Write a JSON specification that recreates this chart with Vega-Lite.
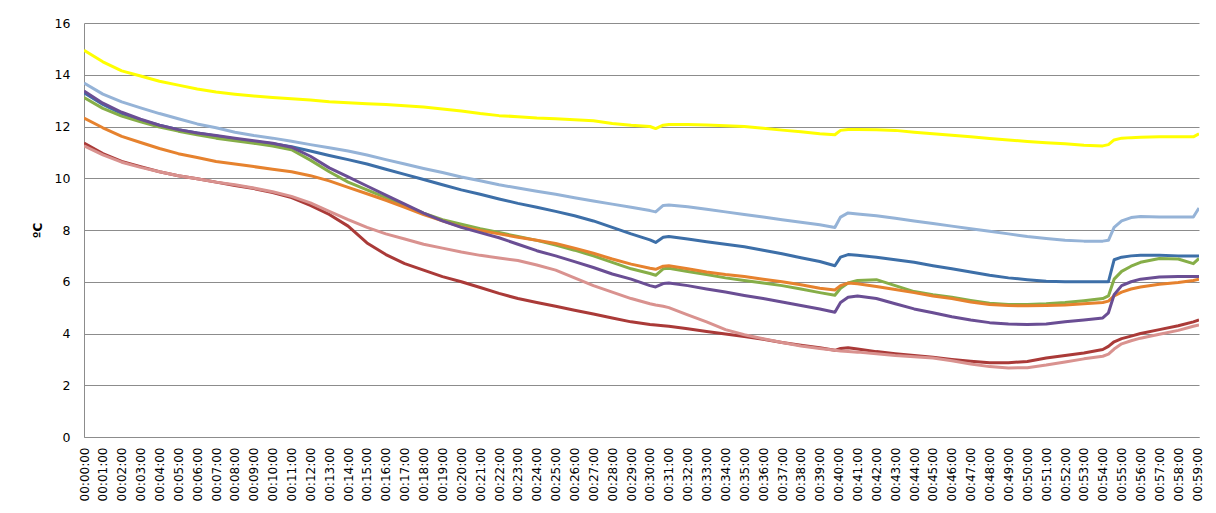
{
  "$schema": "https://vega.github.io/schema/vega-lite/v6.json",
  "width": 1115,
  "height": 414,
  "autosize": {"type": "none"},
  "padding": {"left": 84, "top": 23, "right": 17, "bottom": 76},
  "background": "#ffffff",
  "config": {
    "view": {"stroke": null},
    "font": "DejaVu Sans"
  },
  "data": {
    "values": [
      {"t": 0, "S1": 14.95, "S2": 13.68, "S3": 13.3, "S4": 13.12, "S5": 12.33, "S6": 13.37, "S7": 11.36, "S8": 11.25},
      {"t": 1, "S1": 14.5, "S2": 13.25, "S3": 12.85, "S4": 12.7, "S5": 11.95, "S6": 12.9, "S7": 10.95, "S8": 10.9},
      {"t": 2, "S1": 14.15, "S2": 12.95, "S3": 12.5, "S4": 12.4, "S5": 11.62, "S6": 12.55, "S7": 10.65, "S8": 10.62},
      {"t": 3, "S1": 13.95, "S2": 12.72, "S3": 12.25, "S4": 12.18, "S5": 11.38, "S6": 12.28, "S7": 10.45, "S8": 10.42},
      {"t": 4, "S1": 13.75, "S2": 12.5, "S3": 12.05, "S4": 11.98, "S5": 11.15, "S6": 12.05, "S7": 10.25, "S8": 10.25},
      {"t": 5, "S1": 13.6, "S2": 12.3, "S3": 11.88, "S4": 11.82, "S5": 10.95, "S6": 11.88, "S7": 10.1, "S8": 10.1},
      {"t": 6, "S1": 13.45, "S2": 12.1, "S3": 11.75, "S4": 11.68, "S5": 10.8, "S6": 11.75, "S7": 9.98, "S8": 9.98},
      {"t": 7, "S1": 13.33, "S2": 11.95, "S3": 11.63, "S4": 11.55, "S5": 10.65, "S6": 11.65, "S7": 9.85, "S8": 9.85},
      {"t": 8, "S1": 13.25, "S2": 11.78, "S3": 11.52, "S4": 11.45, "S5": 10.55, "S6": 11.55, "S7": 9.72, "S8": 9.75},
      {"t": 9, "S1": 13.18, "S2": 11.65, "S3": 11.42, "S4": 11.35, "S5": 10.45, "S6": 11.45, "S7": 9.6, "S8": 9.62},
      {"t": 10, "S1": 13.12, "S2": 11.55, "S3": 11.33, "S4": 11.25, "S5": 10.35, "S6": 11.35, "S7": 9.45, "S8": 9.48},
      {"t": 11, "S1": 13.07, "S2": 11.43, "S3": 11.22, "S4": 11.1, "S5": 10.25, "S6": 11.2, "S7": 9.25, "S8": 9.3},
      {"t": 12, "S1": 13.02, "S2": 11.3, "S3": 11.05, "S4": 10.7, "S5": 10.1, "S6": 10.85, "S7": 8.95, "S8": 9.05},
      {"t": 13, "S1": 12.96, "S2": 11.18, "S3": 10.88, "S4": 10.25, "S5": 9.9, "S6": 10.4, "S7": 8.6, "S8": 8.72},
      {"t": 14, "S1": 12.92, "S2": 11.05, "S3": 10.72, "S4": 9.85, "S5": 9.65, "S6": 10.05, "S7": 8.15, "S8": 8.4},
      {"t": 15, "S1": 12.88, "S2": 10.9, "S3": 10.55, "S4": 9.55, "S5": 9.4, "S6": 9.7, "S7": 7.5, "S8": 8.1},
      {"t": 16, "S1": 12.85, "S2": 10.72, "S3": 10.35, "S4": 9.25, "S5": 9.15, "S6": 9.35, "S7": 7.05, "S8": 7.85},
      {"t": 17, "S1": 12.8, "S2": 10.55, "S3": 10.15, "S4": 8.95, "S5": 8.88, "S6": 9.0, "S7": 6.7, "S8": 7.65},
      {"t": 18, "S1": 12.75, "S2": 10.38, "S3": 9.95, "S4": 8.65, "S5": 8.6, "S6": 8.65, "S7": 6.45, "S8": 7.45},
      {"t": 19, "S1": 12.68, "S2": 10.22, "S3": 9.75, "S4": 8.4, "S5": 8.35, "S6": 8.35, "S7": 6.2, "S8": 7.3},
      {"t": 20, "S1": 12.6, "S2": 10.05, "S3": 9.55, "S4": 8.22, "S5": 8.12, "S6": 8.1, "S7": 6.0, "S8": 7.15},
      {"t": 21, "S1": 12.5, "S2": 9.9, "S3": 9.38, "S4": 8.05, "S5": 7.98, "S6": 7.9, "S7": 5.78, "S8": 7.02},
      {"t": 22, "S1": 12.42, "S2": 9.75, "S3": 9.2, "S4": 7.9, "S5": 7.85, "S6": 7.7, "S7": 5.55, "S8": 6.92},
      {"t": 23, "S1": 12.38, "S2": 9.62, "S3": 9.03, "S4": 7.75, "S5": 7.72, "S6": 7.45, "S7": 5.35, "S8": 6.82},
      {"t": 24, "S1": 12.33, "S2": 9.5, "S3": 8.88, "S4": 7.6, "S5": 7.6, "S6": 7.2, "S7": 5.2, "S8": 6.65},
      {"t": 25, "S1": 12.3, "S2": 9.38, "S3": 8.72, "S4": 7.42, "S5": 7.48, "S6": 7.0, "S7": 5.05, "S8": 6.45},
      {"t": 26, "S1": 12.26, "S2": 9.25, "S3": 8.55, "S4": 7.22, "S5": 7.3, "S6": 6.78, "S7": 4.9, "S8": 6.15},
      {"t": 27, "S1": 12.22, "S2": 9.12, "S3": 8.35, "S4": 7.0, "S5": 7.1, "S6": 6.55, "S7": 4.75, "S8": 5.85},
      {"t": 28, "S1": 12.12, "S2": 9.0, "S3": 8.1, "S4": 6.75, "S5": 6.88, "S6": 6.3, "S7": 4.6, "S8": 5.6},
      {"t": 29, "S1": 12.05, "S2": 8.88, "S3": 7.85, "S4": 6.5, "S5": 6.68, "S6": 6.1, "S7": 4.45, "S8": 5.35},
      {"t": 30, "S1": 12.0, "S2": 8.75, "S3": 7.62, "S4": 6.32, "S5": 6.52, "S6": 5.85, "S7": 4.35, "S8": 5.15},
      {"t": 30.3, "S1": 11.92, "S2": 8.7, "S3": 7.52, "S4": 6.25, "S5": 6.48, "S6": 5.8, "S7": 4.33, "S8": 5.1},
      {"t": 30.7, "S1": 12.05, "S2": 8.95, "S3": 7.72, "S4": 6.5, "S5": 6.6, "S6": 5.93, "S7": 4.3, "S8": 5.05},
      {"t": 31, "S1": 12.08, "S2": 8.97, "S3": 7.75, "S4": 6.52, "S5": 6.62, "S6": 5.95, "S7": 4.28, "S8": 5.0},
      {"t": 32, "S1": 12.08, "S2": 8.9, "S3": 7.65, "S4": 6.4, "S5": 6.5, "S6": 5.85, "S7": 4.18, "S8": 4.72},
      {"t": 33, "S1": 12.06, "S2": 8.8, "S3": 7.55, "S4": 6.28, "S5": 6.38, "S6": 5.72, "S7": 4.08, "S8": 4.45},
      {"t": 34, "S1": 12.03, "S2": 8.7, "S3": 7.45, "S4": 6.15, "S5": 6.28, "S6": 5.6, "S7": 3.98, "S8": 4.15},
      {"t": 35, "S1": 12.0, "S2": 8.6, "S3": 7.35, "S4": 6.05, "S5": 6.2, "S6": 5.47, "S7": 3.88, "S8": 3.95},
      {"t": 36, "S1": 11.93, "S2": 8.5, "S3": 7.22, "S4": 5.95, "S5": 6.1, "S6": 5.35, "S7": 3.78, "S8": 3.8},
      {"t": 37, "S1": 11.86, "S2": 8.4, "S3": 7.08, "S4": 5.85, "S5": 6.0, "S6": 5.22, "S7": 3.65, "S8": 3.65},
      {"t": 38, "S1": 11.8, "S2": 8.3, "S3": 6.93, "S4": 5.72, "S5": 5.88, "S6": 5.08, "S7": 3.55, "S8": 3.52},
      {"t": 39, "S1": 11.72, "S2": 8.2, "S3": 6.78, "S4": 5.58, "S5": 5.75, "S6": 4.95, "S7": 3.45, "S8": 3.42},
      {"t": 39.8, "S1": 11.68, "S2": 8.1, "S3": 6.62, "S4": 5.48, "S5": 5.68, "S6": 4.82, "S7": 3.35, "S8": 3.35},
      {"t": 40.1, "S1": 11.85, "S2": 8.5, "S3": 6.95, "S4": 5.75, "S5": 5.85, "S6": 5.2, "S7": 3.42, "S8": 3.32},
      {"t": 40.5, "S1": 11.88, "S2": 8.66, "S3": 7.05, "S4": 5.95, "S5": 5.95, "S6": 5.4, "S7": 3.45, "S8": 3.3},
      {"t": 41, "S1": 11.88, "S2": 8.62, "S3": 7.02, "S4": 6.05, "S5": 5.92, "S6": 5.45, "S7": 3.4, "S8": 3.28},
      {"t": 42, "S1": 11.87, "S2": 8.55, "S3": 6.95, "S4": 6.08, "S5": 5.82, "S6": 5.35, "S7": 3.3, "S8": 3.22},
      {"t": 43, "S1": 11.85, "S2": 8.45, "S3": 6.85, "S4": 5.85, "S5": 5.7, "S6": 5.15, "S7": 3.22, "S8": 3.15},
      {"t": 44, "S1": 11.78, "S2": 8.35, "S3": 6.75, "S4": 5.62, "S5": 5.58, "S6": 4.95, "S7": 3.15, "S8": 3.1},
      {"t": 45, "S1": 11.72, "S2": 8.25, "S3": 6.62, "S4": 5.5, "S5": 5.45, "S6": 4.8, "S7": 3.08, "S8": 3.05},
      {"t": 46, "S1": 11.66, "S2": 8.15, "S3": 6.5, "S4": 5.4, "S5": 5.35, "S6": 4.65, "S7": 3.0, "S8": 2.95},
      {"t": 47, "S1": 11.6, "S2": 8.05, "S3": 6.38, "S4": 5.28, "S5": 5.22, "S6": 4.52, "S7": 2.93, "S8": 2.82},
      {"t": 48, "S1": 11.54, "S2": 7.95, "S3": 6.25, "S4": 5.17, "S5": 5.12, "S6": 4.42, "S7": 2.87, "S8": 2.72},
      {"t": 49, "S1": 11.48, "S2": 7.85, "S3": 6.15, "S4": 5.12, "S5": 5.08, "S6": 4.37, "S7": 2.87, "S8": 2.67},
      {"t": 50, "S1": 11.42, "S2": 7.75, "S3": 6.08, "S4": 5.12, "S5": 5.07, "S6": 4.35, "S7": 2.92, "S8": 2.68},
      {"t": 51, "S1": 11.37, "S2": 7.67, "S3": 6.02, "S4": 5.15, "S5": 5.08, "S6": 4.37, "S7": 3.05, "S8": 2.78},
      {"t": 52, "S1": 11.33, "S2": 7.6, "S3": 6.0, "S4": 5.2, "S5": 5.1, "S6": 4.45, "S7": 3.15, "S8": 2.9},
      {"t": 53, "S1": 11.28, "S2": 7.57, "S3": 6.0, "S4": 5.27, "S5": 5.15, "S6": 4.52, "S7": 3.25, "S8": 3.02},
      {"t": 54, "S1": 11.25, "S2": 7.57, "S3": 6.0, "S4": 5.35, "S5": 5.2, "S6": 4.6, "S7": 3.38, "S8": 3.12},
      {"t": 54.3, "S1": 11.3, "S2": 7.6, "S3": 6.0, "S4": 5.45, "S5": 5.25, "S6": 4.8, "S7": 3.5, "S8": 3.2},
      {"t": 54.6, "S1": 11.48, "S2": 8.1, "S3": 6.85, "S4": 6.1, "S5": 5.45, "S6": 5.5, "S7": 3.68, "S8": 3.4},
      {"t": 55, "S1": 11.55, "S2": 8.35, "S3": 6.95, "S4": 6.4, "S5": 5.6, "S6": 5.85, "S7": 3.8, "S8": 3.6},
      {"t": 55.5, "S1": 11.57, "S2": 8.48, "S3": 7.0, "S4": 6.6, "S5": 5.72, "S6": 6.0, "S7": 3.9, "S8": 3.72},
      {"t": 56, "S1": 11.58, "S2": 8.52, "S3": 7.02, "S4": 6.75, "S5": 5.8, "S6": 6.1, "S7": 4.0, "S8": 3.82},
      {"t": 57, "S1": 11.6, "S2": 8.5, "S3": 7.02, "S4": 6.9, "S5": 5.9, "S6": 6.18, "S7": 4.15, "S8": 3.97},
      {"t": 58, "S1": 11.6, "S2": 8.5, "S3": 7.0, "S4": 6.88, "S5": 5.97, "S6": 6.2, "S7": 4.3, "S8": 4.12},
      {"t": 58.8, "S1": 11.6, "S2": 8.5, "S3": 7.0, "S4": 6.7, "S5": 6.05, "S6": 6.2, "S7": 4.45, "S8": 4.28},
      {"t": 59.1, "S1": 11.72, "S2": 8.85, "S3": 7.0, "S4": 6.9, "S5": 6.1, "S6": 6.2, "S7": 4.52, "S8": 4.33}
    ]
  },
  "transform": [
    {"fold": ["S1", "S2", "S3", "S4", "S5", "S6", "S7", "S8"], "as": ["serie", "v"]}
  ],
  "mark": {"type": "line", "strokeWidth": 3, "strokeJoin": "round", "clip": true},
  "encoding": {
    "x": {
      "field": "t",
      "type": "quantitative",
      "scale": {"domain": [0, 59.1], "nice": false, "zero": false},
      "axis": {
        "title": null,
        "values": [0, 1, 2, 3, 4, 5, 6, 7, 8, 9, 10, 11, 12, 13, 14, 15, 16, 17, 18, 19, 20, 21, 22, 23, 24, 25, 26, 27, 28, 29, 30, 31, 32, 33, 34, 35, 36, 37, 38, 39, 40, 41, 42, 43, 44, 45, 46, 47, 48, 49, 50, 51, 52, 53, 54, 55, 56, 57, 58, 59],
        "labelExpr": "'00:' + format(datum.value, '02d') + ':00'",
        "labelAngle": 270,
        "labelOverlap": false,
        "labelFlush": false,
        "labelFont": "DejaVu Sans",
        "labelFontSize": 12,
        "labelColor": "#000000",
        "labelPadding": 10,
        "grid": false,
        "ticks": false,
        "domainColor": "#8c8c8c",
        "domainWidth": 1
      }
    },
    "y": {
      "field": "v",
      "type": "quantitative",
      "scale": {"domain": [0, 16], "nice": false},
      "axis": {
        "title": "ºC",
        "titleFont": "DejaVu Sans",
        "titleFontSize": 12,
        "titleFontWeight": "bold",
        "titleColor": "#000000",
        "titlePadding": 10,
        "values": [0, 2, 4, 6, 8, 10, 12, 14, 16],
        "labelFont": "DejaVu Sans",
        "labelFontSize": 12.5,
        "labelColor": "#000000",
        "labelPadding": 14,
        "grid": true,
        "gridColor": "#8c8c8c",
        "gridWidth": 1,
        "ticks": false,
        "domainColor": "#8c8c8c",
        "domainWidth": 1
      }
    },
    "color": {
      "field": "serie",
      "type": "nominal",
      "legend": null,
      "scale": {
        "domain": ["S1", "S2", "S3", "S4", "S5", "S6", "S7", "S8"],
        "range": ["#FFFF00", "#95B3D7", "#3D6FA8", "#86AE48", "#E6822E", "#6A4E94", "#AA3A38", "#D9928F"]
      }
    }
  }
}
